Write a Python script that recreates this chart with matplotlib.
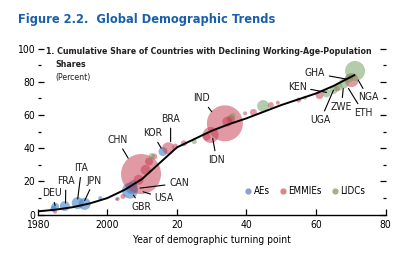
import matplotlib
matplotlib.use("Agg")
import matplotlib.pyplot as plt
from matplotlib import font_manager

# try a condensed face
cond = [f for f in font_manager.fontManager.ttflist
        if f.name == "DejaVu Sans" and f.stretch == "condensed"]
plt.rcParams["font.family"] = ["DejaVu Sans"]
if cond:
    plt.rcParams["font.stretch"] = "condensed"

# cumulative share curve
curve_years = [1980, 1985, 1990, 1995, 2000, 2005, 2010, 2015, 2020, 2025,
               2030, 2035, 2040, 2045, 2050, 2055, 2060, 2065, 2071]
curve_share = [2, 3, 4.5, 6.8, 10, 15, 21.5, 31, 40.5, 45.5,
               50.5, 54.5, 58, 62, 66, 69.5, 73, 77.5, 84]

# bubbles: year, share, size (radius-like), group
ae_year = [1984.5, 1985, 1987.8, 1991.5, 1993.5, 1998, 2002.7, 2006.5, 2007, 2007.5, 2016]
ae_share = [3.5, 4.8, 5.2, 7.0, 6.5, 10, 9.4, 14.5, 16, 18.5, 38]
ae_size = [3, 4, 5, 6, 6, 2, 1.5, 8, 6, 4, 4.5]

em_year = [1985, 2003, 2004.5, 2009.7, 2009, 2011, 2012, 2013.5, 2017.5, 2019.5,
           2022, 2028.5, 2029.7, 2033.8, 2034.5, 2035.5, 2039.6, 2042, 2047,
           2049, 2055, 2061, 2066, 2070.2]
em_share = [1.8, 9.5, 11, 24.5, 21, 27, 32, 35, 40, 41,
            43, 47, 48, 55, 56, 57.5, 61, 61.6, 66,
            67.4, 69, 72, 76, 81]
em_size = [2, 2, 2.5, 20, 5, 5, 4, 3, 6, 3,
           3, 4, 8, 18, 5, 4, 2, 3.5, 3,
           2, 2.5, 4, 3, 7]

li_year = [2012.8, 2025, 2036, 2044.8, 2056.8, 2063, 2065, 2066.5, 2068, 2069.5, 2071.2]
li_share = [35.3, 44, 59.4, 65.4, 70.4, 73, 75, 77, 79, 82, 86.5]
li_size = [3, 2.5, 3, 6, 2, 4, 4, 4, 5, 4, 10]

# country labels: name, text position, line end
lab_names = ["DEU", "FRA", "ITA", "JPN", "CHN", "KOR", "BRA", "CAN", "USA", "GBR",
             "IND", "IDN", "KEN", "GHA", "NGA", "ETH", "ZWE", "UGA"]
lab_text = [(1984.1, 12.9), (1988.1, 20.3), (1992.6, 27.9), (1996.2, 20.5),
            (2002.9, 45), (2013, 49), (2018.2, 57.6), (2020.6, 18.9),
            (2016.4, 9.9), (2009.9, 4.8), (2027.1, 70), (2031.4, 33),
            (2054.6, 77), (2059.7, 85), (2075, 70.6), (2073.6, 61.4),
            (2067.3, 65), (2061.3, 57)]
lab_point = [(1985, 5.5), (1988, 7), (1991.5, 9.5), (1993.5, 8.5),
             (2006, 34), (2015.5, 40), (2018.2, 44), (2009.4, 16),
             (2010.3, 13.8), (2007.5, 11.8), (2030, 62), (2030.3, 46),
             (2063, 73.6), (2068.8, 81.6), (2072.1, 81), (2069.3, 76),
             (2067.8, 76), (2065, 75)]

blue = "#3f82c8"
red = "#c4364b"
green = "#6b9a58"


def msize(r):
    return (2 * r * 0.72) ** 2


fig = plt.figure(figsize=(4.07, 2.58), dpi=100)
ax = fig.add_axes([0.0926, 0.1678, 0.855, 0.644])

ax.scatter(ae_year, ae_share, s=[msize(r) for r in ae_size], color=blue,
           alpha=0.6, linewidths=0, zorder=2)
ax.scatter(em_year, em_share, s=[msize(r) for r in em_size], color=red,
           alpha=0.5, linewidths=0, zorder=2)
ax.scatter(li_year, li_share, s=[msize(r) for r in li_size], color=green,
           alpha=0.5, linewidths=0, zorder=2)
ax.plot(curve_years, curve_share, color="black", lw=1.4, zorder=3)

for name, txt, pt in zip(lab_names, lab_text, lab_point):
    ax.annotate(name, xy=pt, xytext=txt, ha="center", va="center",
                fontsize=7.5, color="#231f20",
                arrowprops=dict(arrowstyle="-", color="black", lw=0.8,
                                shrinkA=1, shrinkB=0))

# legend
for lbl, c in [("AEs", "#8a9ed4"), ("EMMIEs", "#d48a84"), ("LIDCs", "#9cb38e")]:
    ax.scatter([], [], s=12, color=c, label=lbl)
ax.legend(loc="center", bbox_to_anchor=(0.765, 0.145), ncol=3, frameon=False,
          fontsize=7, handletextpad=0.0, columnspacing=0.7, borderpad=0,
          scatterpoints=1, handlelength=1.2)

ax.set_xlim(1980, 2080)
ax.set_ylim(0, 100)
ax.set_xticks([1980, 2000, 2020, 2040, 2060, 2080])
ax.set_xticklabels(["1980", "2000", "20", "40", "60", "80"])
ax.set_yticks([0, 20, 40, 60, 80, 100])
ax.set_yticks([10, 30, 50, 70, 90], minor=True)
for s in ["left", "right", "top"]:
    ax.spines[s].set_visible(False)
ax.spines["bottom"].set_linewidth(1.0)
ax.tick_params(axis="x", direction="in", length=4, width=0.9, labelsize=7.5,
               pad=3.5, colors="black")
ax.tick_params(axis="y", which="major", direction="in", length=4, width=0.9,
               labelsize=7.5, pad=2, right=True)
ax.tick_params(axis="y", which="minor", direction="in", length=2.5, width=0.9,
               right=True)
ax.set_xlabel("Year of demographic turning point", fontsize=7.3, labelpad=4)

fig.text(0.044, 1 - 23 / 258, "Figure 2.2.  Global Demographic Trends",
         fontsize=9.2, fontweight="bold", color="#1a5fab", va="baseline")
fig.text(46 / 407, 1 - 54 / 258,
         "1. Cumulative Share of Countries with Declining Working-Age-Population",
         fontsize=6.3, fontweight="bold", color="#231f20", va="baseline")
fig.text(55 / 407, 1 - 67 / 258, "Shares", fontsize=6.3, fontweight="bold",
         color="#231f20", va="baseline")
fig.text(55 / 407, 1 - 80 / 258, "(Percent)", fontsize=6.3, color="#231f20",
         va="baseline")

fig.savefig("out.png", dpi=100)
